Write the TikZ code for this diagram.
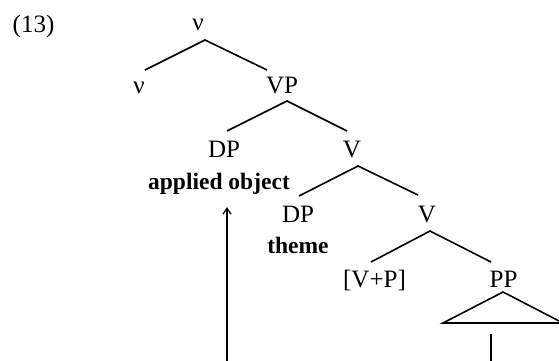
\documentclass[tikz,border=0pt]{standalone}
\usepackage{fontspec}
\setmainfont{Liberation Serif}
\usetikzlibrary{arrows.meta}
\begin{document}
\begin{tikzpicture}[x=1pt,y=-1pt,
  lbl/.style={anchor=base,inner sep=0pt,font=\fontsize{25}{30}\selectfont},
  bld/.style={anchor=base,inner sep=0pt,font=\fontsize{23.5}{28}\selectfont\bfseries},
  branch/.style={line width=1.6pt},
  mvarrow/.style={line width=1.5pt,-{Straight Barb[length=6pt,width=8pt,line width=1.3pt]}}]
\useasboundingbox (0,0) rectangle (559,360);
\clip (0,0) rectangle (559,360);
% labels
\node[lbl] (ex) at (33.5,32) {(13)};
\node[lbl] (nuTop) at (198,30) {ν};
\node[lbl] (nuL) at (139,93) {ν};
\node[lbl] (VP) at (282,93) {VP};
\node[lbl] (DP1) at (224,157) {DP};
\node[lbl] (V1) at (352,157) {V};
\node[bld] (app) at (219,189) {applied object};
\node[lbl] (DP2) at (298,222) {DP};
\node[lbl] (V2) at (427,222) {V};
\node[bld] (theme) at (298,253) {theme};
\node[lbl] (VPc) at (374.5,287) {[V+P]};
\node[lbl] (PP) at (503.5,287) {PP};
% attachment points
\coordinate (nuTop-b) at (205,40);
\coordinate (nuL-t) at (145,70);
\coordinate (VP-t) at (267,70);
\coordinate (VP-b) at (287,101);
\coordinate (DP1-t) at (227,131);
\coordinate (V1-t) at (347,131);
\coordinate (V1-b) at (358,166);
\coordinate (DP2-t) at (299,196);
\coordinate (V2-t) at (418,195);
\coordinate (V2-b) at (430,231);
\coordinate (VPc-t) at (371,262);
\coordinate (PP-t) at (491,262);
\coordinate (PP-b) at (503,292);
\coordinate (triL) at (443,323);
\coordinate (triR) at (563,323);
\coordinate (PPline-t) at (491,334);
\coordinate (PPline-b) at (491,362);
\coordinate (arr-b) at (227,362);
\coordinate (app-b) at (227,207);
% branches
\draw[branch] (nuL-t) -- (nuTop-b) -- (VP-t);
\draw[branch] (DP1-t) -- (VP-b) -- (V1-t);
\draw[branch] (DP2-t) -- (V1-b) -- (V2-t);
\draw[branch] (VPc-t) -- (V2-b) -- (PP-t);
\draw[branch,line join=miter] (PP-b) -- (triL) -- (triR) -- cycle;
\draw[branch] (PPline-t) -- (PPline-b);
\draw[mvarrow] (arr-b) -- (app-b);
\end{tikzpicture}
\end{document}
